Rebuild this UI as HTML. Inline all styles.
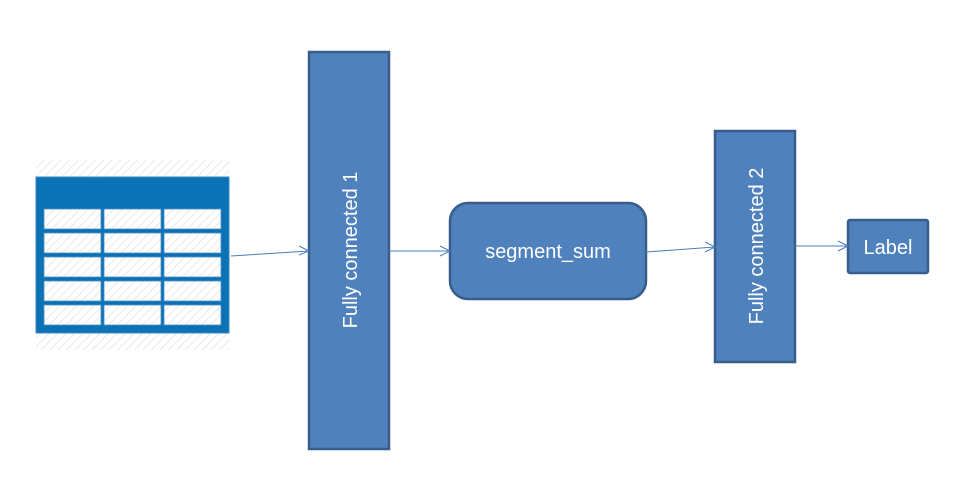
<!DOCTYPE html>
<html><head><style>
body{margin:0;background:#fff;width:961px;height:486px;overflow:hidden;font-family:"Liberation Sans",sans-serif}
</style></head><body>
<svg width="961" height="486" xmlns="http://www.w3.org/2000/svg">
<defs>
<pattern id="h" width="6" height="6" patternUnits="userSpaceOnUse" patternTransform="rotate(45)">
<rect width="6" height="6" fill="#fff"/><line x1="0" y1="0" x2="0" y2="6" stroke="#e8e8e8" stroke-width="2"/>
</pattern>
</defs>
<rect x="36" y="160" width="193" height="190" fill="url(#h)"/>
<rect x="36" y="177" width="193" height="156" fill="#0a72b5" stroke="#3a8ac4" stroke-width="1"/>
<g fill="url(#h)" stroke="#4a90c8" stroke-width="0.8">
<rect x="44" y="209" width="57" height="20"/><rect x="104" y="209" width="57" height="20"/><rect x="164" y="209" width="57" height="20"/>
<rect x="44" y="233" width="57" height="20"/><rect x="104" y="233" width="57" height="20"/><rect x="164" y="233" width="57" height="20"/>
<rect x="44" y="257" width="57" height="20"/><rect x="104" y="257" width="57" height="20"/><rect x="164" y="257" width="57" height="20"/>
<rect x="44" y="281" width="57" height="20"/><rect x="104" y="281" width="57" height="20"/><rect x="164" y="281" width="57" height="20"/>
<rect x="44" y="305" width="57" height="20"/><rect x="104" y="305" width="57" height="20"/><rect x="164" y="305" width="57" height="20"/>
</g>
<g fill="#4f81bd" stroke="#385d8a" stroke-width="2.5">
<rect x="309" y="52" width="80" height="397"/>
<rect x="450" y="203" width="196" height="96" rx="18"/>
<rect x="715" y="131" width="80" height="231"/>
<rect x="848" y="220" width="80" height="53" rx="2"/>
</g>
<g fill="#fff" font-size="20">
<text transform="translate(357,250) rotate(-90)" text-anchor="middle">Fully connected 1</text>
<text transform="translate(763,246) rotate(-90)" text-anchor="middle">Fully connected 2</text>
<text x="548" y="258" text-anchor="middle">segment_sum</text>
<text x="888" y="254" text-anchor="middle">Label</text>
</g>
<g stroke="#4a7ebb" stroke-width="1" fill="none">
<line x1="231" y1="256" x2="309" y2="251"/><polyline points="299,246 309,251 299,255"/>
<line x1="389" y1="251" x2="450" y2="251"/><polyline points="440,246 450,251 440,256"/>
<line x1="646" y1="252" x2="715" y2="247"/><polyline points="705,242 715,247 705,252"/>
<line x1="795" y1="246" x2="848" y2="246"/><polyline points="838,241 848,246 838,251"/>
</g>
</svg>
</body></html>
